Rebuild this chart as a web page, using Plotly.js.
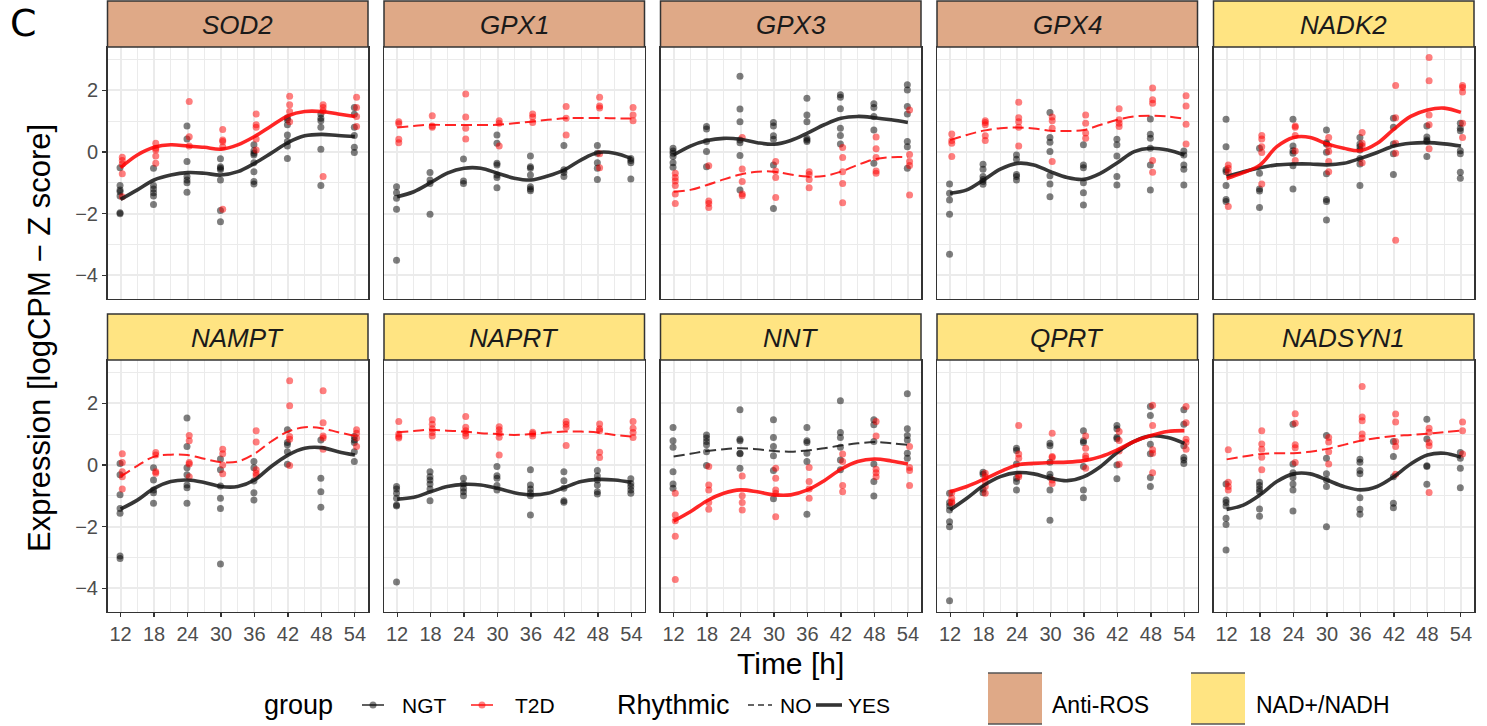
<!DOCTYPE html>
<html><head><meta charset="utf-8">
<script src="https://cdn.plot.ly/plotly-3.0.1.min.js"></script>
<style>html,body{margin:0;padding:0;background:#fff}</style>
</head><body><div id="chart" style="width:1487px;height:726px"></div>
<script>
// ---------------- DATA ----------------
const TIMES = [12, 18, 24, 30, 36, 42, 48, 54];
const FIT_TIMES = [12, 15, 18, 21, 24, 27, 30, 33, 36, 39, 42, 45, 48, 51, 54];
const X_TICK_LABELS = ['12', '18', '24', '30', '36', '42', '48', '54'];
const Y_TICK_VALUES = [-4, -2, 0, 2];
const Y_TICK_LABELS = ['\u22124', '\u22122', '0', '2'];
const GENES = ['SOD2', 'GPX1', 'GPX3', 'GPX4', 'NADK2', 'NAMPT', 'NAPRT', 'NNT', 'QPRT', 'NADSYN1'];
const GENE_CATEGORY = ['Anti-ROS', 'Anti-ROS', 'Anti-ROS', 'Anti-ROS', 'NAD+/NADH', 'NAD+/NADH', 'NAD+/NADH', 'NAD+/NADH', 'NAD+/NADH', 'NAD+/NADH'];
const RHYTHMIC_NGT = ['YES', 'YES', 'YES', 'YES', 'YES', 'YES', 'YES', 'NO', 'YES', 'YES'];
const RHYTHMIC_T2D = ['YES', 'NO', 'NO', 'NO', 'YES', 'NO', 'NO', 'YES', 'YES', 'NO'];
const CATEGORIES = ['Anti-ROS', 'NAD+/NADH'];
const GROUPS = ['NGT', 'T2D'];
const RHYTHM_LEVELS = ['NO', 'YES'];

// per-gene samples, one inner list per time point (12..54 h)
const SOD2_NGT = [[-0.51,-1.09,-1.23,-1.29,-1.43,-1.97,-2.0],[-0.53,-1.09,-1.2,-1.32,-1.43,-1.7],[0.84,0.42,-0.31,-0.8,-0.91,-1.0,-1.31],[-0.22,-0.48,-0.53,-0.58,-0.91,-1.9,-2.26],[0.23,0.04,-0.04,-0.1,-0.35,-0.64,-0.96,-1.04],[1.11,1.04,0.88,0.55,0.34,0.19,-0.21],[1.23,1.09,1.01,0.8,0.09,-1.09],[1.44,1.22,0.8,0.53,0.15,-0.02]];
const SOD2_T2D = [[-0.17,-0.28,-0.39,-0.71,-1.45],[0.28,0.12,0.06,-0.13,-0.37],[1.63,0.49,0.19],[0.73,0.39,0.34,0.17,-1.86],[1.23,0.88,0.8,0.42,0.06],[1.8,1.53,1.31,0.98],[1.53,1.44,1.33,-0.8],[1.77,1.44,1.15,0.82]];
const SOD2_NGT_FIT = [-1.54,-1.23,-0.91,-0.75,-0.67,-0.69,-0.75,-0.64,-0.37,-0.04,0.3,0.52,0.57,0.53,0.5];
const SOD2_T2D_FIT = [-0.51,-0.1,0.15,0.23,0.19,0.15,0.09,0.23,0.5,0.84,1.17,1.31,1.31,1.23,1.15];

const GPX1_NGT = [[-1.13,-1.32,-1.5,-1.86,-3.51],[-0.67,-0.91,-1.02,-2.02],[-0.23,-0.94,-1.02],[0.55,0.28,-0.37,-0.42,-0.75,-0.83,-1.16],[-0.13,-0.48,-0.53,-0.75,-1.13,-1.2,-1.26],[0.21,-0.58,-0.67,-0.8],[0.21,-0.04,-0.35,-0.53,-0.89],[-0.21,-0.28,-0.35,-0.88]];
const GPX1_T2D = [[0.98,0.91,0.41,0.3],[1.17,0.84,0.8],[1.88,1.13,0.77,0.42],[1.01,0.93,0.19],[1.23,1.13,0.95],[1.47,1.09,0.55],[1.77,1.49,1.42,-0.06,-0.51],[1.44,1.2,1.01]];
const GPX1_NGT_FIT = [-1.45,-1.29,-1.0,-0.69,-0.53,-0.53,-0.69,-0.85,-0.91,-0.78,-0.58,-0.26,-0.02,-0.04,-0.21];
const GPX1_T2D_FIT = [0.79,0.84,0.88,0.87,0.87,0.87,0.88,0.93,0.98,1.04,1.09,1.1,1.1,1.09,1.08];

const GPX3_NGT = [[0.12,0.03,-0.04,-0.15,-0.35,-0.5],[0.82,0.74,0.34,0.01,-0.48],[2.45,1.39,0.98,0.39,0.3,-0.12,-1.23],[0.95,0.84,0.52,0.41,-0.42,-1.83],[1.74,1.2,0.98,0.44,0.39,0.34],[1.85,1.77,1.4,0.77,0.53,0.26],[1.56,1.44,1.15,0.71,-0.37],[2.18,2.01,1.47,1.23,0.34,0.17,-0.53]];
const GPX3_T2D = [[-0.69,-0.83,-0.94,-1.09,-1.36,-1.67],[-0.45,-1.59,-1.67,-1.8],[0.47,-0.55,-0.96,-1.36,-1.42],[-0.31,-0.62,-0.83,-1.48],[-0.64,-0.73,-0.89,-1.16],[0.14,-0.18,-0.64,-1.02,-1.65],[0.48,0.1,-0.18,-0.62,-0.69],[1.36,-0.08,-0.31,-0.44,-1.4]];
const GPX3_NGT_FIT = [-0.1,0.19,0.37,0.44,0.41,0.3,0.25,0.37,0.61,0.88,1.09,1.15,1.11,1.04,0.95];
const GPX3_T2D_FIT = [-1.29,-1.23,-1.07,-0.89,-0.73,-0.64,-0.64,-0.73,-0.8,-0.78,-0.64,-0.42,-0.24,-0.17,-0.17];

const GPX4_NGT = [[-1.04,-1.34,-1.56,-2.02,-3.32],[-0.4,-0.56,-0.8,-0.89,-0.96,-1.05],[-0.1,-0.24,-0.73,-0.8,-0.91],[1.28,0.47,0.31,0.01,-0.77,-1.04,-1.45],[0.23,-0.42,-0.51,-1.0,-1.32,-1.72],[0.41,0.23,-0.13,-0.8,-1.07],[1.07,0.57,0.44,0.12,-0.42,-1.23],[0.03,-0.1,-0.42,-0.56,-1.07]];
const GPX4_T2D = [[0.58,0.37,0.28,-0.15],[1.01,0.95,0.88,0.52,0.37],[1.61,1.11,0.98,0.8,0.19],[1.13,1.01,0.77,-0.31],[1.2,0.93,0.61,0.44],[1.4,1.04,0.93,0.82],[2.07,1.69,1.58,-0.28,-0.66],[1.82,1.49,0.9,0.26]];
const GPX4_NGT_FIT = [-1.34,-1.23,-0.91,-0.56,-0.37,-0.42,-0.64,-0.83,-0.89,-0.69,-0.35,0.01,0.12,0.06,-0.1];
const GPX4_T2D_FIT = [0.39,0.55,0.69,0.77,0.79,0.76,0.69,0.68,0.71,0.88,1.04,1.15,1.17,1.15,1.07];

const NADK2_NGT = [[1.06,0.17,-0.58,-0.64,-1.09,-1.54,-1.61],[0.12,-0.69,-1.2,-1.27,-1.8],[1.06,0.19,0.04,-0.04,-0.45,-1.2],[0.71,0.3,0.26,-0.01,-0.71,-1.54,-1.61,-2.21],[0.47,0.26,0.17,0.06,-0.21,-0.39,-1.09],[1.09,0.8,0.26,-0.06,-0.73],[0.84,0.48,0.39,0.34,-0.15],[0.93,0.77,0.69,0.04,-0.06,-0.66,-0.85]];
const NADK2_T2D = [[-0.42,-0.53,-0.67,-1.77],[0.53,0.42,0.17,-0.02,-1.04],[0.84,0.8,0.53,0.03,-0.28],[0.47,0.19,0.01,-0.31,-0.64],[0.63,0.28,0.19,-0.35],[2.15,1.11,0.28,-0.04,-2.86],[3.06,2.31,1.2,0.88,0.1],[2.15,2.09,1.94,0.93,0.47]];
const NADK2_NGT_FIT = [-0.8,-0.64,-0.51,-0.42,-0.39,-0.39,-0.42,-0.37,-0.21,-0.02,0.19,0.28,0.3,0.26,0.19];
const NADK2_T2D_FIT = [-0.86,-0.67,-0.42,0.17,0.47,0.47,0.26,0.12,0.04,0.28,0.74,1.15,1.36,1.42,1.28];

const NAMPT_NGT = [[0.05,-0.32,-0.97,-1.41,-1.57,-2.95,-3.03],[-0.09,-0.49,-0.81,-0.9,-1.24],[1.52,0.6,-0.09,-0.32,-0.65,-0.74,-1.24],[0.19,-0.16,-0.68,-1.08,-1.41,-3.21],[0.11,-0.09,-0.52,-0.9,-1.14],[1.14,0.73,0.65,0.43,0.02],[0.81,-0.43,-0.87,-1.37],[0.92,0.81,0.73,0.43,0.11]];
const NAMPT_T2D = [[0.36,0.08,-0.22,-0.38,-0.78],[0.4,0.32,-0.22,-0.27],[0.95,0.78,0.08,0.03,-0.38],[0.51,0.36,0.0,-0.29],[1.11,0.74,-0.16,-0.27,-0.35],[2.73,1.92,0.92,0.83,-0.02],[2.4,1.37,0.94,0.87,0.51],[1.14,1.03,0.87,0.6]];
const NAMPT_NGT_FIT = [-1.43,-1.14,-0.76,-0.54,-0.49,-0.57,-0.7,-0.7,-0.49,-0.05,0.32,0.54,0.56,0.43,0.32];
const NAMPT_T2D_FIT = [-0.38,-0.03,0.27,0.33,0.32,0.2,0.09,0.11,0.36,0.76,1.08,1.22,1.19,1.06,0.94];

const NAPRT_NGT = [[-0.7,-0.78,-0.92,-1.08,-1.3,-1.33,-3.79],[-0.22,-0.38,-0.49,-0.62,-0.78,-1.16],[-0.43,-0.62,-0.76,-0.87,-1.0],[-0.05,-0.35,-0.43,-0.67,-0.81],[-0.16,-0.65,-0.78,-0.9,-1.0,-1.62],[-0.22,-0.51,-0.76,-1.16,-1.21],[-0.18,-0.36,-0.49,-0.65,-0.87,-0.94],[-0.45,-0.6,-0.7,-0.81,-0.92]];
const NAPRT_T2D = [[1.41,1.0,0.92,0.87],[1.46,1.32,1.17,1.05,0.94],[1.57,1.22,1.11,1.03,0.94],[1.24,1.14,1.03,0.9,0.32],[1.06,1.01,0.94],[1.41,1.32,1.22,0.63],[1.33,1.17,1.11,0.41,0.24],[1.41,1.19,1.05,0.89]];
const NAPRT_NGT_FIT = [-1.11,-1.05,-0.87,-0.7,-0.63,-0.65,-0.76,-0.9,-0.97,-0.92,-0.73,-0.54,-0.47,-0.49,-0.57];
const NAPRT_T2D_FIT = [1.06,1.1,1.14,1.11,1.08,1.03,1.0,0.97,1.0,1.05,1.08,1.08,1.05,0.97,0.92];

const NNT_NGT = [[1.21,0.78,0.57,-0.22,-0.62,-0.76],[0.97,0.87,0.76,0.65,0.43,-0.02],[1.79,0.83,0.78,0.38,0.36,-0.11],[1.46,0.89,0.6,0.3,-0.18,-1.1],[1.21,0.78,0.73,0.38,0.11,-1.6],[2.08,1.05,0.89,0.57,0.16,-0.16],[1.46,1.3,0.76,0.03,-0.54,-1.01],[2.31,1.17,0.95,0.81,0.38,0.22]];
const NNT_T2D = [[-0.92,-1.62,-1.81,-2.31,-3.71],[-0.05,-0.65,-0.81,-1.22,-1.44],[-0.36,-1.0,-1.22,-1.46],[-0.11,-0.43,-0.81,-0.92,-1.68],[-0.08,-0.54,-0.78,-1.08],[0.35,0.11,-0.67,-0.87],[1.41,0.94,-0.14,-0.25,-0.38],[0.6,-0.08,-0.18,-0.67]];
const NNT_NGT_FIT = [0.27,0.36,0.45,0.51,0.54,0.51,0.45,0.43,0.47,0.54,0.63,0.7,0.74,0.7,0.65];
const NNT_T2D_FIT = [-1.82,-1.52,-1.16,-0.92,-0.81,-0.87,-0.97,-0.97,-0.81,-0.51,-0.14,0.11,0.19,0.13,0.03];

const QPRT_NGT = [[-0.92,-1.22,-1.33,-1.46,-1.84,-2.0,-4.4],[-0.24,-0.3,-0.79,-0.9],[0.54,0.47,0.03,-0.43,-0.54,-0.81],[0.7,0.62,0.09,-0.3,-0.4,-0.81,-1.79],[1.11,0.78,0.73,-0.05,-0.81,-1.06],[1.28,1.17,0.9,0.85,0.0,-0.45],[1.89,1.6,0.67,0.36,-0.41,-0.7],[1.79,1.32,0.62,0.24,0.16,0.05]];
const QPRT_T2D = [[-0.9,-1.08,-1.19,-1.24],[-0.27,-0.38,-0.54,-0.7,-0.92],[1.28,0.35,0.22,-0.32,-0.38],[1.03,0.27,0.24,-0.49,-0.6],[0.94,0.54,0.3,0.22,-0.11],[1.08,0.79,0.45,0.02],[1.93,1.28,0.49,0.38,-0.25],[1.89,1.37,0.83,0.73,0.51]];
const QPRT_NGT_FIT = [-1.46,-1.08,-0.67,-0.38,-0.25,-0.29,-0.43,-0.51,-0.38,-0.05,0.41,0.76,0.94,0.89,0.7];
const QPRT_T2D_FIT = [-0.87,-0.7,-0.47,-0.22,0.0,0.05,0.08,0.09,0.14,0.27,0.49,0.76,0.95,1.08,1.11];

const NADSYN1_NGT = [[-0.62,-1.14,-1.22,-1.33,-1.73,-1.93,-2.76],[-0.56,-0.67,-0.78,-0.87,-1.43,-1.66],[1.32,0.03,-0.25,-0.41,-0.62,-0.81,-1.49],[0.95,0.22,-0.29,-0.49,-0.7,-2.0],[0.18,0.09,-0.18,-0.29,-1.06,-1.44,-1.6],[0.76,0.27,-0.38,-1.24,-1.39],[1.48,0.84,-0.03,-0.05,-0.63],[0.4,0.22,-0.11,-0.74]];
const NADSYN1_T2D = [[0.49,-0.56,-0.7,-0.81],[1.11,0.68,0.51,0.25,-0.16],[1.66,1.35,0.65,0.56,0.08],[0.89,0.74,0.43,0.03],[2.54,1.55,1.43,1.0,0.87],[1.65,1.39,0.76,0.6,-0.3],[1.19,1.06,0.73,0.62,-0.89],[1.39,1.11,0.35]];
const NADSYN1_NGT_FIT = [-1.44,-1.3,-0.97,-0.54,-0.29,-0.29,-0.49,-0.7,-0.81,-0.7,-0.38,0.03,0.32,0.38,0.25];
const NADSYN1_T2D_FIT = [0.18,0.27,0.35,0.38,0.38,0.43,0.52,0.65,0.78,0.87,0.94,0.97,1.01,1.06,1.11];

// ---------------- BUILD ----------------
const SAMPLES = {
  SOD2: [SOD2_NGT, SOD2_T2D], GPX1: [GPX1_NGT, GPX1_T2D], GPX3: [GPX3_NGT, GPX3_T2D],
  GPX4: [GPX4_NGT, GPX4_T2D], NADK2: [NADK2_NGT, NADK2_T2D], NAMPT: [NAMPT_NGT, NAMPT_T2D],
  NAPRT: [NAPRT_NGT, NAPRT_T2D], NNT: [NNT_NGT, NNT_T2D], QPRT: [QPRT_NGT, QPRT_T2D],
  NADSYN1: [NADSYN1_NGT, NADSYN1_T2D]
};
const FITS = {
  SOD2: [SOD2_NGT_FIT, SOD2_T2D_FIT], GPX1: [GPX1_NGT_FIT, GPX1_T2D_FIT], GPX3: [GPX3_NGT_FIT, GPX3_T2D_FIT],
  GPX4: [GPX4_NGT_FIT, GPX4_T2D_FIT], NADK2: [NADK2_NGT_FIT, NADK2_T2D_FIT], NAMPT: [NAMPT_NGT_FIT, NAMPT_T2D_FIT],
  NAPRT: [NAPRT_NGT_FIT, NAPRT_T2D_FIT], NNT: [NNT_NGT_FIT, NNT_T2D_FIT], QPRT: [QPRT_NGT_FIT, QPRT_T2D_FIT],
  NADSYN1: [NADSYN1_NGT_FIT, NADSYN1_T2D_FIT]
};
const RHYTHMIC = [RHYTHMIC_NGT, RHYTHMIC_T2D];

const W = 1487, H = 726;
const PX = p => p / W;
const PY = p => 1 - p / H;
const PT_COL = ['rgba(0,0,0,0.5)', 'rgba(255,0,0,0.5)'];
const LN_COL = ['rgba(20,20,20,0.85)', 'rgba(255,0,0,0.85)'];
const DODGE = [-0.1, 0.3];
const CAT_FILL = {'Anti-ROS': '#DFA987', 'NAD+/NADH': '#FFE482'};
const FONT = 'Liberation Sans, Arial, sans-serif';

const COL_L = [107.5, 384, 660.5, 937, 1213.5];
const PANEL_W = 260.5;
const ROW_T = [47, 360];
const PANEL_H = 251.5;
const STRIP_T = [1, 314];

const traces = [];
const layout = {
  width: W, height: H, margin: {l: 0, r: 0, t: 0, b: 0},
  paper_bgcolor: '#fff', plot_bgcolor: '#fff', showlegend: false,
  font: {family: FONT, color: '#1A1A1A'},
  shapes: [], annotations: []
};

GENES.forEach((g, i) => {
  const col = i % 5, row = Math.floor(i / 5);
  const sfx = i === 0 ? '' : String(i + 1);
  const xa = 'x' + sfx, ya = 'y' + sfx;
  for (let gi = 0; gi < 2; gi++) {
    const xs = [], ys = [];
    SAMPLES[g][gi].forEach((vals, k) => vals.forEach(v => { xs.push(TIMES[k] + DODGE[gi]); ys.push(v); }));
    traces.push({type: 'scatter', mode: 'markers', x: xs, y: ys, xaxis: xa, yaxis: ya,
      marker: {size: 7, color: PT_COL[gi], line: {width: 0}}, hoverinfo: 'skip', name: GROUPS[gi]});
  }
  for (let gi = 0; gi < 2; gi++) {
    const yes = RHYTHMIC[gi][i] === 'YES';
    traces.push({type: 'scatter', mode: 'lines', x: FIT_TIMES, y: FITS[g][gi], xaxis: xa, yaxis: ya,
      line: {color: LN_COL[gi], width: yes ? 3.6 : 2, dash: yes ? 'solid' : '11px,5px', shape: 'spline', smoothing: 1},
      hoverinfo: 'skip', name: GROUPS[gi]});
  }
  const x0 = COL_L[col], y0 = ROW_T[row];
  layout['xaxis' + sfx] = {
    domain: [PX(x0), PX(x0 + PANEL_W)], anchor: ya, range: [9.65, 56.35],
    tickmode: 'array', tickvals: TIMES, ticktext: X_TICK_LABELS,
    showticklabels: row === 1, ticks: row === 1 ? 'outside' : '', ticklen: 4, tickwidth: 1.2, tickcolor: '#333',
    tickfont: {family: FONT, size: 20, color: '#4D4D4D'},
    showgrid: true, gridcolor: '#EBEBEB', gridwidth: 2,
    minor: {tickmode: 'linear', tick0: 15, dtick: 6, showgrid: true, gridcolor: '#EBEBEB', gridwidth: 1.1, ticks: ''},
    zeroline: false, showline: true, mirror: true, linecolor: '#333', linewidth: 1.5, fixedrange: true
  };
  layout['yaxis' + sfx] = {
    domain: [PY(y0 + PANEL_H), PY(y0)], anchor: xa, range: [-4.75, 3.4],
    tickmode: 'array', tickvals: Y_TICK_VALUES, ticktext: Y_TICK_LABELS,
    showticklabels: col === 0, ticks: col === 0 ? 'outside' : '', ticklen: 4, tickwidth: 1.2, tickcolor: '#333',
    tickfont: {family: FONT, size: 20, color: '#4D4D4D'},
    showgrid: true, gridcolor: '#EBEBEB', gridwidth: 2,
    minor: {tickmode: 'linear', tick0: -3, dtick: 2, showgrid: true, gridcolor: '#EBEBEB', gridwidth: 1.1, ticks: ''},
    zeroline: false, showline: true, mirror: true, linecolor: '#333', linewidth: 1.5, fixedrange: true
  };
  const st = STRIP_T[row];
  layout.shapes.push({type: 'rect', xref: 'paper', yref: 'paper', x0: PX(x0), x1: PX(x0 + PANEL_W),
    y0: PY(y0), y1: PY(st), fillcolor: CAT_FILL[GENE_CATEGORY[i]], line: {color: '#333', width: 1.5}, layer: 'above'});
  layout.annotations.push({xref: 'paper', yref: 'paper', x: PX(x0 + PANEL_W / 2), y: PY((st + y0) / 2 + 1),
    text: '<i>' + g + '</i>', showarrow: false, xanchor: 'center', yanchor: 'middle',
    font: {family: FONT, size: 26, color: '#1A1A1A'}});
});

layout.annotations.push({xref: 'paper', yref: 'paper', x: PX(790), y: PY(663), text: 'Time [h]', showarrow: false,
  xanchor: 'center', yanchor: 'middle', font: {family: FONT, size: 30, color: '#000'}});
layout.annotations.push({xref: 'paper', yref: 'paper', x: PX(40), y: PY(338), text: 'Expression [logCPM \u2212 Z score]',
  showarrow: false, textangle: -90, xanchor: 'center', yanchor: 'middle', font: {family: FONT, size: 31, color: '#000'}});
layout.annotations.push({xref: 'paper', yref: 'paper', x: PX(23), y: PY(23), text: 'C', showarrow: false,
  xanchor: 'center', yanchor: 'middle', font: {family: 'DejaVu Sans, sans-serif', size: 38, color: '#000'}});

const LY = 705;
function legText(txt, x, size) {
  layout.annotations.push({xref: 'paper', yref: 'paper', x: PX(x), y: PY(LY), text: txt, showarrow: false,
    xanchor: 'left', yanchor: 'middle', font: {family: FONT, size: size, color: '#000'}});
}
function legLine(x0, x1, color, width, dash) {
  layout.shapes.push({type: 'line', xref: 'paper', yref: 'paper', x0: PX(x0), x1: PX(x1), y0: PY(LY), y1: PY(LY),
    line: {color: color, width: width, dash: dash || 'solid'}});
}
function legDot(x, color) {
  layout.shapes.push({type: 'circle', xref: 'paper', yref: 'paper', x0: PX(x - 3.5), x1: PX(x + 3.5), y0: PY(LY + 3.5), y1: PY(LY - 3.5),
    fillcolor: color, line: {width: 0}});
}
legText('group', 262, 27);
legLine(362, 384, LN_COL[0], 1.6); legDot(373, PT_COL[0]); legText(GROUPS[0], 400, 21);
legLine(471, 493, LN_COL[1], 1.6); legDot(482, PT_COL[1]); legText(GROUPS[1], 513, 21);
legText('Rhythmic', 615, 27);
legLine(748, 772, '#333', 1.5, '6px,4px'); legText(RHYTHM_LEVELS[0], 778, 21);
legLine(816, 842, '#333', 3.6); legText(RHYTHM_LEVELS[1], 846, 21);
[[988, CATEGORIES[0], 1050], [1191, CATEGORIES[1], 1254]].forEach(([bx, cat, tx]) => {
  layout.shapes.push({type: 'rect', xref: 'paper', yref: 'paper', x0: PX(bx), x1: PX(bx + 54), y0: PY(724), y1: PY(673),
    fillcolor: CAT_FILL[cat], line: {width: 0}});
  layout.shapes.push({type: 'line', xref: 'paper', yref: 'paper', x0: PX(bx), x1: PX(bx + 54), y0: PY(673), y1: PY(673), line: {color: '#555', width: 1.5}});
  layout.shapes.push({type: 'line', xref: 'paper', yref: 'paper', x0: PX(bx), x1: PX(bx + 54), y0: PY(724), y1: PY(724), line: {color: '#555', width: 1.5}});
  legText(cat, tx, 23);
});

Plotly.newPlot('chart', traces, layout, {staticPlot: true, displayModeBar: false});
</script></body></html>
